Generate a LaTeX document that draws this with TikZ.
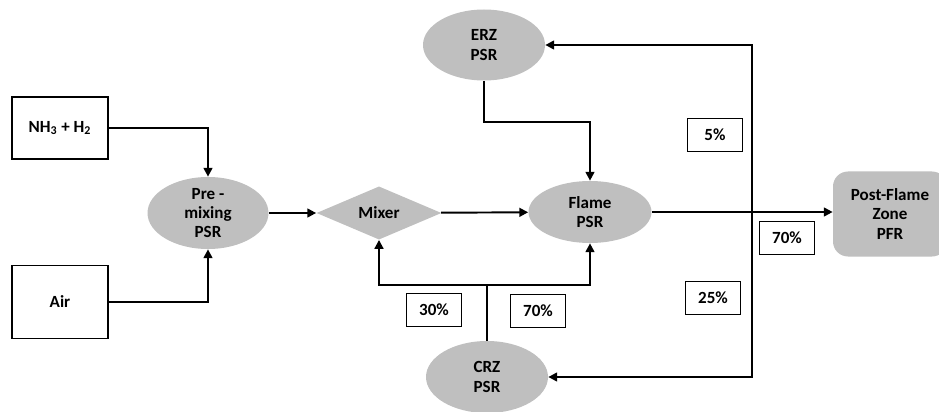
\documentclass[tikz,border=0pt]{standalone}
\usepackage{fontspec}
\setmainfont{Carlito}
\usetikzlibrary{shapes, arrows.meta}
\colorlet{drawColor}{black}
\colorlet{fillColor}{black!25}
\tikzstyle{txt}=[font=\bfseries\fontsize{9.7}{11}\selectfont, align=center, inner sep=0pt]
\tikzstyle{fInlet}=[txt, rectangle, draw=drawColor, line width=0.7pt, fill=white]
\tikzstyle{fReactor}=[txt, ellipse, fill=fillColor]
\tikzstyle{fMixer}=[txt, diamond, fill=fillColor]
\tikzstyle{fOutlet}=[txt, rectangle, rounded corners=3mm, fill=fillColor]
\tikzstyle{fSplit}=[txt, rectangle, draw=drawColor, line width=0.6pt, fill=white,
minimum width=11mm, minimum height=6.7mm]
\tikzstyle{arrow}=[-{Triangle[length=5pt, width=5pt]}, line width=1.1pt, draw=drawColor]
\tikzstyle{line}=[line width=1.1pt, draw=drawColor]

\begin{document}
\begin{tikzpicture}[x=0.2mm, y=-0.2mm]
      \useasboundingbox (0,0) rectangle (939,412);
      \node(fuel) [fInlet, minimum width=19.2mm, minimum height=12.4mm] at (60,128) {NH\textsubscript{3} + H\textsubscript{2}};
      \node(air) [fInlet, minimum width=19.2mm, minimum height=14.6mm] at (60,302) {Air};
      \node(premix) [fReactor, minimum width=24.2mm, minimum height=14.4mm] at (208,213) {Pre -\\mixing\\PSR};
      \draw [arrow] (fuel.east) -| (premix.north);
      \draw [arrow] (air.east) -| (premix.south);
      \node(mixer) [fMixer, minimum width=25mm, minimum height=10mm] at (379,213) {Mixer};
      \draw [arrow] (premix) -- (mixer);
      \node(flame) [fReactor, minimum width=24.6mm, minimum height=12.4mm] at (590,212) {Flame\\PSR};
      \draw [arrow] (mixer) -- (flame);
      \node(erz) [fReactor, minimum width=24.4mm, minimum height=14.2mm] at (484,45) {ERZ\\PSR};
      \draw [arrow] (erz.south) -- ++(0,41) -| (flame.north);
      \node(crz) [fReactor, minimum width=24.4mm, minimum height=14.4mm] at (487,377) {CRZ\\PSR};
      \draw [line] (crz.north) -- ++(0,-56) coordinate(split);
      \draw [arrow] (split) -| (mixer.south);
      \draw [arrow] (split) -| (flame.south);
      \node(pfr) [fOutlet, minimum width=22.8mm, minimum height=17mm] at (890,214) {Post-Flame\\Zone\\PFR};
      \draw [arrow] (flame.east) -- (flame.east -| pfr.west);
      \coordinate(junc) at (752,212);
      \draw [arrow] (junc) |- (erz.east);
      \draw [arrow] (junc) |- (crz.east);
      \node(pctErz) [fSplit] at (715,135) {5\%};
      \node(pctPfr) [fSplit] at (787,238) {70\%};
      \node(pctCrz) [fSplit] at (713,298) {25\%};
      \node(pctMix) [fSplit] at (434,310) {30\%};
      \node(pctFlame) [fSplit] at (538,311) {70\%};
    \end{tikzpicture}
\end{document}
